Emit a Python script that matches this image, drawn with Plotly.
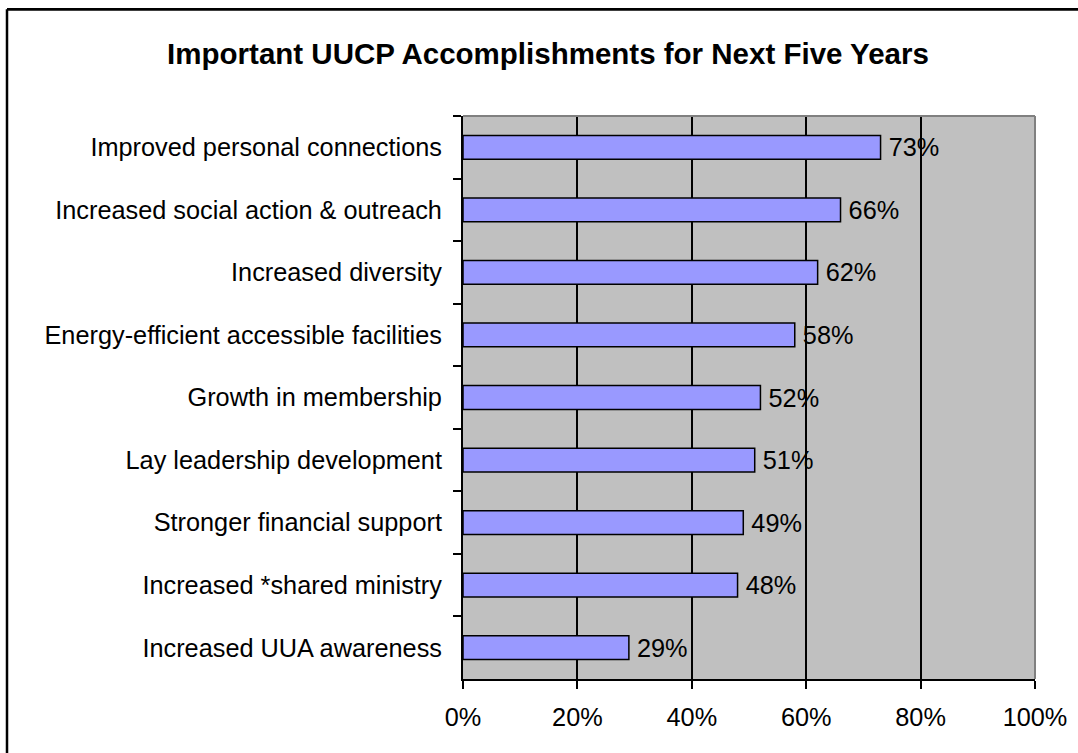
import plotly.graph_objects as go

categories = [
    "Improved personal connections",
    "Increased social action & outreach",
    "Increased diversity",
    "Energy-efficient accessible facilities",
    "Growth in membership",
    "Lay leadership development",
    "Stronger financial support",
    "Increased *shared ministry",
    "Increased UUA awareness",
]
values = [73, 66, 62, 58, 52, 51, 49, 48, 29]
x_ticks = [0, 20, 40, 60, 80, 100]
title_text = "Important UUCP Accomplishments for Next Five Years"

W, H = 1078, 753
ML, MR, MT, MB = 463, 43, 116, 74
PW, PH = W - ML - MR, H - MT - MB

def px_x(p):
    return (p - ML) / PW

def px_y(p):
    return (H - MB - p) / PH

FONT = "Liberation Sans, Arial, sans-serif"

fig = go.Figure(
    go.Bar(
        x=values,
        y=categories,
        orientation="h",
        marker=dict(color="#9999FF", line=dict(color="black", width=1.5)),
        text=values,
        texttemplate="\u2009%{x}%",
        textposition="outside",
        constraintext="none",
        textfont=dict(size=25.3, color="black", family=FONT),
        cliponaxis=False,
        hoverinfo="skip",
    )
)

fig.update_layout(
    width=W,
    height=H,
    margin=dict(l=ML, r=MR, t=MT, b=MB, pad=0),
    paper_bgcolor="white",
    plot_bgcolor="#C0C0C0",
    bargap=0.62,
    showlegend=False,
    font=dict(family=FONT, size=25.3, color="black"),
    title=dict(
        text="<b>" + title_text + "</b>",
        x=0.5 * (168 + 928) / W,
        xanchor="center",
        xref="container",
        y=1 - 54 / H,
        yref="container",
        yanchor="middle",
        font=dict(size=29.5, family=FONT, color="black"),
    ),
    xaxis=dict(
        range=[0, 100],
        tickvals=x_ticks,
        ticktext=[f"{v}%" for v in x_ticks],
        showgrid=True,
        gridcolor="black",
        gridwidth=1.5,
        zeroline=False,
        showline=True,
        linecolor="black",
        linewidth=2,
        ticks="outside",
        ticklen=8,
        tickwidth=1.5,
        tickcolor="black",
        ticklabelstandoff=7,
        tickfont=dict(size=25.3),
        fixedrange=True,
    ),
    yaxis=dict(
        autorange="reversed",
        showgrid=False,
        zeroline=False,
        showline=True,
        linecolor="black",
        linewidth=2,
        ticks="outside",
        tickson="boundaries",
        ticklen=8,
        tickwidth=1.5,
        tickcolor="black",
        ticklabelstandoff=14,
        tickfont=dict(size=25.3),
        fixedrange=True,
    ),
    shapes=[
        # gray top and right plot border
        dict(type="line", xref="paper", yref="paper", x0=0, x1=1, y0=1, y1=1,
             line=dict(color="#808080", width=2), layer="above"),
        dict(type="line", xref="paper", yref="paper", x0=1, x1=1, y0=0, y1=1,
             line=dict(color="#808080", width=2), layer="above"),
        # outer chart border (top and left visible)
        dict(type="line", xref="paper", yref="paper",
             x0=px_x(7), x1=px_x(W + 5), y0=px_y(9.3), y1=px_y(9.3),
             line=dict(color="black", width=2.7)),
        dict(type="line", xref="paper", yref="paper",
             x0=px_x(7), x1=px_x(7), y0=px_y(9.3), y1=px_y(H + 5),
             line=dict(color="black", width=2.5)),
    ],
)

fig.write_html(
    "out.html",
    config={"displayModeBar": False},
    post_script="document.body.style.margin='0';",
)
